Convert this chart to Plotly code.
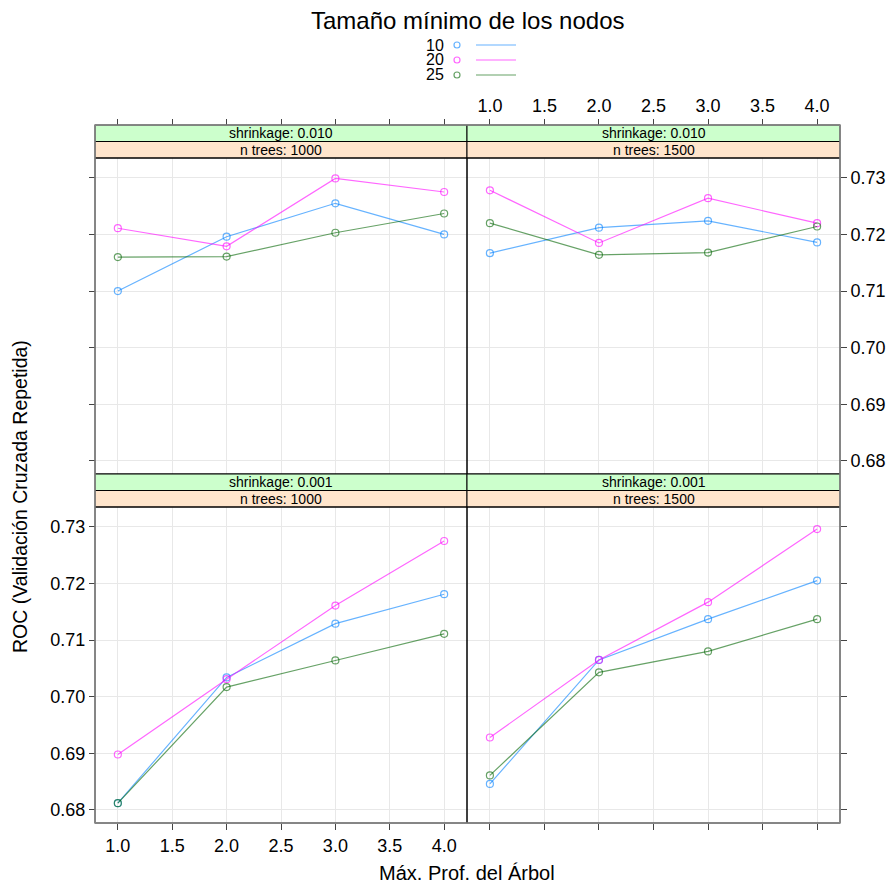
import plotly.graph_objects as go

# The page body has an 8px default margin, so the figure is laid out in
# reference-pixel coordinates shifted by that offset.
OFF = 8
W, H = 895 - OFF, 885 - OFF

depth = [1, 2, 3, 4]
node_sizes = ["10", "20", "25"]
colors = ["rgba(0,128,255,0.6)", "rgba(255,0,255,0.6)", "rgba(0,100,0,0.6)"]

# panel: (shrinkage, n trees) -> values per node size
roc_s010_n1000 = {
    "10": [0.7100, 0.7196, 0.7255, 0.7200],
    "20": [0.7211, 0.7179, 0.7299, 0.7275],
    "25": [0.7160, 0.7161, 0.7203, 0.7237],
}
roc_s010_n1500 = {
    "10": [0.7167, 0.7212, 0.7224, 0.7186],
    "20": [0.7278, 0.7185, 0.7264, 0.7220],
    "25": [0.7220, 0.7164, 0.7168, 0.7214],
}
roc_s001_n1000 = {
    "10": [0.6812, 0.7034, 0.7129, 0.7181],
    "20": [0.6898, 0.7031, 0.7161, 0.7275],
    "25": [0.6812, 0.7017, 0.7064, 0.7111],
}
roc_s001_n1500 = {
    "10": [0.6846, 0.7065, 0.7137, 0.7205],
    "20": [0.6928, 0.7065, 0.7167, 0.7296],
    "25": [0.6861, 0.7043, 0.7080, 0.7137],
}

def px(x):
    return (x - OFF) / W

def py(y):
    return 1 - (y - OFF) / H

XL = (95, 467)
XR = (467, 840)
TOP = (158, 474)
BOT = (507, 823)
STRIP_H = 16.5

panels = [
    dict(d=roc_s010_n1000, xp=XL, yp=TOP, s1="shrinkage: 0.010", s2="n trees: 1000",
         xside="top", xlabels=False, yside="left", ylabels=False),
    dict(d=roc_s010_n1500, xp=XR, yp=TOP, s1="shrinkage: 0.010", s2="n trees: 1500",
         xside="top", xlabels=True, yside="right", ylabels=True),
    dict(d=roc_s001_n1000, xp=XL, yp=BOT, s1="shrinkage: 0.001", s2="n trees: 1000",
         xside="bottom", xlabels=True, yside="left", ylabels=True),
    dict(d=roc_s001_n1500, xp=XR, yp=BOT, s1="shrinkage: 0.001", s2="n trees: 1500",
         xside="bottom", xlabels=False, yside="right", ylabels=False),
]

fig = go.Figure()
layout = {}
shapes = []
annotations = []
FONT = "Liberation Sans, Arial, sans-serif"
TICK_SIZE = 18

for i, p in enumerate(panels, start=1):
    xa = "x" if i == 1 else f"x{i}"
    ya = "y" if i == 1 else f"y{i}"
    for k, col in zip(node_sizes, colors):
        fig.add_trace(go.Scatter(
            x=depth, y=p["d"][k], mode="lines+markers", xaxis=xa, yaxis=ya,
            line=dict(color=col, width=1.2),
            marker=dict(symbol="circle-open", size=7, color=col, line=dict(width=1.2, color=col)),
            showlegend=False, name=k))
    x0, x1 = p["xp"]
    y0, y1 = p["yp"]
    if p["xside"] == "top":
        xpos = py(y0 - 2 * STRIP_H)
    else:
        xpos = py(y1)
    xname = "xaxis" if i == 1 else f"xaxis{i}"
    yname = "yaxis" if i == 1 else f"yaxis{i}"
    layout[xname] = dict(
        domain=[px(x0), px(x1)], range=[0.79, 4.21], anchor="free", position=xpos,
        side=p["xside"], tickvals=[1, 1.5, 2, 2.5, 3, 3.5, 4],
        ticktext=["1.0", "1.5", "2.0", "2.5", "3.0", "3.5", "4.0"],
        showticklabels=p["xlabels"], ticks="outside", ticklen=6, tickcolor="#444",
        showgrid=True, gridcolor="#e8e8e8", gridwidth=1, zeroline=False, showline=False,
        tickfont=dict(family=FONT, size=TICK_SIZE, color="black"), fixedrange=True)
    ypos = px(x0) if p["yside"] == "left" else px(x1)
    layout[yname] = dict(
        domain=[py(y1), py(y0)], range=[0.6777, 0.7335], anchor="free", position=ypos,
        side=p["yside"], tickvals=[0.68, 0.69, 0.70, 0.71, 0.72, 0.73],
        ticktext=["0.68", "0.69", "0.70", "0.71", "0.72", "0.73"],
        showticklabels=p["ylabels"], ticks="outside", ticklen=6, tickcolor="#444",
        showgrid=True, gridcolor="#e8e8e8", gridwidth=1, zeroline=False, showline=False,
        tickfont=dict(family=FONT, size=TICK_SIZE, color="black"), fixedrange=True)
    s_top = y0 - 2 * STRIP_H
    s_mid = y0 - STRIP_H
    shapes.append(dict(type="rect", xref="paper", yref="paper",
                       x0=px(x0), x1=px(x1), y0=py(s_mid), y1=py(s_top),
                       fillcolor="#ccffcc", line=dict(color="black", width=1), layer="above"))
    shapes.append(dict(type="rect", xref="paper", yref="paper",
                       x0=px(x0), x1=px(x1), y0=py(y0), y1=py(s_mid),
                       fillcolor="#ffe5cc", line=dict(color="black", width=1), layer="above"))
    annotations.append(dict(xref="paper", yref="paper", x=px((x0 + x1) / 2), y=py((s_top + s_mid) / 2),
                            text=p["s1"], showarrow=False, xanchor="center", yanchor="middle",
                            font=dict(family=FONT, size=14, color="black")))
    annotations.append(dict(xref="paper", yref="paper", x=px((x0 + x1) / 2), y=py((s_mid + y0) / 2),
                            text=p["s2"], showarrow=False, xanchor="center", yanchor="middle",
                            font=dict(family=FONT, size=14, color="black")))
    shapes.append(dict(type="rect", xref="paper", yref="paper",
                       x0=px(x0), x1=px(x1), y0=py(y1), y1=py(y0),
                       line=dict(color="black", width=1), layer="above"))

shapes.append(dict(type="rect", xref="paper", yref="paper",
                   x0=px(XL[0]), x1=px(XR[1]), y0=py(BOT[1]), y1=py(TOP[0] - 2 * STRIP_H),
                   line=dict(color="#888888", width=1.5), layer="above"))

# legend
annotations.append(dict(xref="paper", yref="paper", x=px(468), y=py(20), text="Tamaño mínimo de los nodos",
                        showarrow=False, xanchor="center", yanchor="middle",
                        font=dict(family=FONT, size=24, color="black")))
leg_y = [45, 60, 75]
for k, col, yy in zip(node_sizes, colors, leg_y):
    annotations.append(dict(xref="paper", yref="paper", x=px(446), y=py(yy), text=k, showarrow=False,
                            xanchor="right", yanchor="middle", font=dict(family=FONT, size=16, color="black")))
    shapes.append(dict(type="circle", xref="paper", yref="paper",
                       x0=px(454), x1=px(460), y0=py(yy + 3), y1=py(yy - 3),
                       line=dict(color=col, width=1.2)))
    shapes.append(dict(type="line", xref="paper", yref="paper",
                       x0=px(476), x1=px(516), y0=py(yy), y1=py(yy),
                       line=dict(color=col, width=1.2)))

annotations.append(dict(xref="paper", yref="paper", x=px(467), y=py(873), text="Máx. Prof. del Árbol",
                        showarrow=False, xanchor="center", yanchor="middle",
                        font=dict(family=FONT, size=20, color="black")))
annotations.append(dict(xref="paper", yref="paper", x=px(20), y=py(497), text="ROC (Validación Cruzada Repetida)",
                        showarrow=False, xanchor="center", yanchor="middle", textangle=-90,
                        font=dict(family=FONT, size=19.5, color="black")))

fig.update_layout(
    width=W, height=H, margin=dict(l=0, r=0, t=0, b=0, autoexpand=False),
    paper_bgcolor="white", plot_bgcolor="white", showlegend=False,
    shapes=shapes, annotations=annotations, **layout)

fig.write_html("out.html")
